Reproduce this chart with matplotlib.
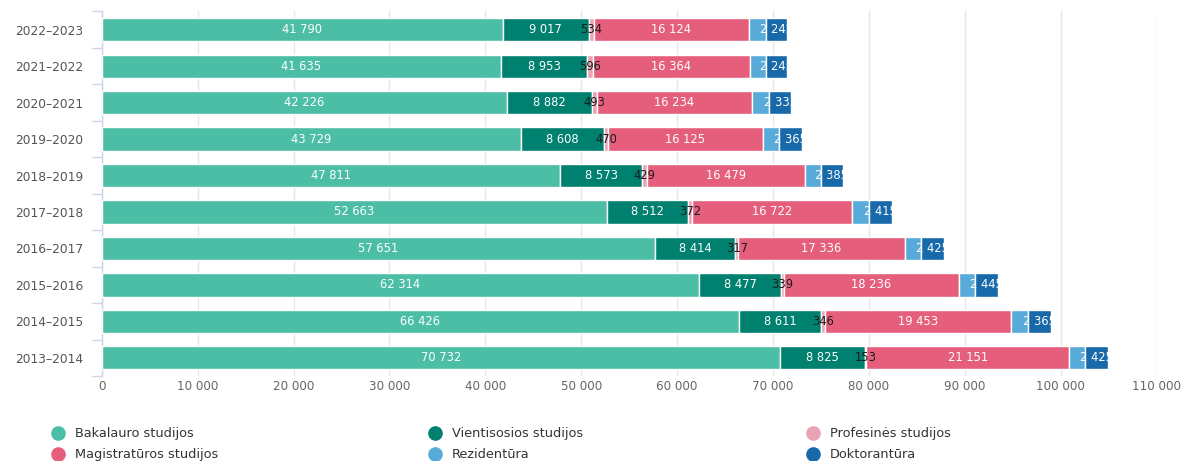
import matplotlib
matplotlib.use("Agg")
import matplotlib.pyplot as plt
from matplotlib.lines import Line2D
import numpy as np

plt.rcParams['font.family'] = ['DejaVu Sans']

categories = ["2022–2023", "2021–2022", "2020–2021", "2019–2020", "2018–2019",
              "2017–2018", "2016–2017", "2015–2016", "2014–2015", "2013–2014"]

series_names = ["Bakalauro studijos", "Vientisosios studijos", "Profesinės studijos",
                "Magistratūros studijos", "Rezidentūra", "Doktorantūra"]

bakalauro = [41790, 41635, 42226, 43729, 47811, 52663, 57651, 62314, 66426, 70732]
vientisosios = [9017, 8953, 8882, 8608, 8573, 8512, 8414, 8477, 8611, 8825]
profesines = [534, 596, 493, 470, 429, 372, 317, 339, 346, 153]
magistraturos = [16124, 16364, 16234, 16125, 16479, 16722, 17336, 18236, 19453, 21151]
rezidentura = [1780, 1700, 1740, 1725, 1655, 1695, 1690, 1680, 1755, 1680]
doktorantura = [2245, 2245, 2335, 2365, 2385, 2415, 2425, 2445, 2365, 2425]

x_ticks = [0, 10000, 20000, 30000, 40000, 50000, 60000, 70000, 80000, 90000, 100000, 110000]

colors = ["#4cbea6", "#00806f", "#e8a3b5", "#e55f7c", "#58abd9", "#1769a9"]
label_colors = ["#ffffff", "#ffffff", "#1a1a1a", "#ffffff", None, "#ffffff"]

data = [bakalauro, vientisosios, profesines, magistraturos, rezidentura, doktorantura]

W, H = 1184, 461
fig = plt.figure(figsize=(W / 100, H / 100), dpi=100)
left_px, right_px, top_px, bottom_px = 101.7, 1156.7, 11.5, 376.0
ax = fig.add_axes([left_px / W, 1 - bottom_px / H, (right_px - left_px) / W, (bottom_px - top_px) / H])

y = np.arange(len(categories))
cum = np.zeros(len(categories))
bar_h = 0.64

def fmt(v):
    return f"{v:,}".replace(",", " ")

for name, vals, col, lcol in zip(series_names, data, colors, label_colors):
    vals = np.array(vals, dtype=float)
    ax.barh(y, vals, left=cum, height=bar_h, color=col, edgecolor="white", linewidth=1, zorder=3)
    if lcol is not None:
        for yi, (c, v) in enumerate(zip(cum, vals)):
            ax.text(c + v / 2, yi, fmt(int(v)), ha="center", va="center", fontsize=8.3,
                    color=lcol, zorder=5, clip_on=False)
    cum += vals

ax.set_xlim(0, 110000)
ax.set_ylim(len(categories) - 0.5, -0.5)
ax.set_xticks(x_ticks)
ax.set_xticklabels([fmt(t) for t in x_ticks], fontsize=8.6, color="#666666")
ax.set_yticks(y)
ax.set_yticklabels(categories, fontsize=8.8, color="#555555")
ax.set_yticks(np.arange(-0.5, len(categories) + 0.5, 1), minor=True)
ax.tick_params(axis="y", which="major", length=0, pad=13)
ax.tick_params(axis="y", which="minor", length=7.5, color="#ccd6eb", width=1)
ax.tick_params(axis="x", length=0, pad=3)

ax.grid(axis="x", color="#e6e6e6", linewidth=1, zorder=0)
ax.set_axisbelow(True)
for s in ["top", "right", "bottom"]:
    ax.spines[s].set_visible(False)
ax.spines["left"].set_color("#ccd6eb")
ax.spines["left"].set_linewidth(1)

# Legend (3 columns, 2 rows)
col_x = [58, 435, 813]
row_y = [433, 454]
order = [0, 1, 2, 3, 4, 5]
for k, idx in enumerate(order):
    r, c = divmod(k, 3)
    xm, ym = col_x[c], row_y[r]
    fig.add_artist(Line2D([xm / W], [1 - ym / H], marker="o", markersize=9.5, color=colors[idx],
                          linestyle="none", transform=fig.transFigure))
    fig.text((xm + 17) / W, 1 - ym / H, series_names[idx], fontsize=9.3, color="#333333",
             ha="left", va="center")

fig.savefig("out.png", dpi=100)
